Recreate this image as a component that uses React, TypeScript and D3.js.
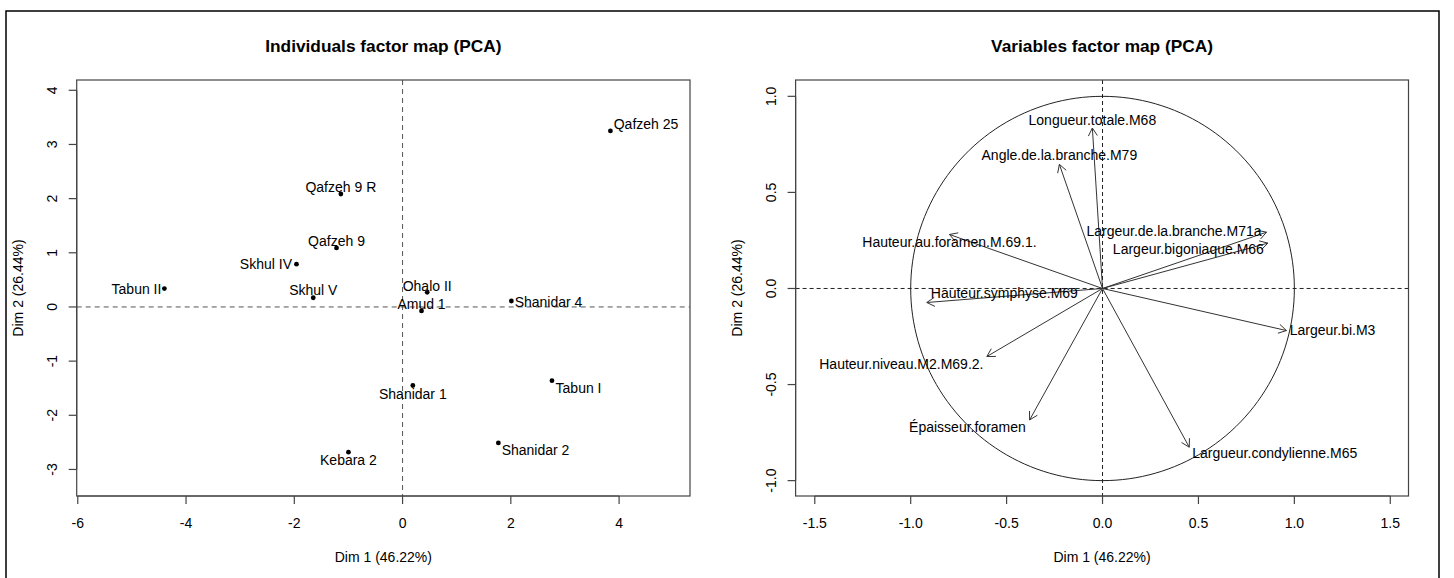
import React from "react";
import * as d3 from "d3";

// ---------- Data ----------
const indNames = ["Qafzeh 25", "Qafzeh 9 R", "Qafzeh 9", "Skhul IV", "Tabun II", "Skhul V", "Ohalo II", "Amud 1", "Shanidar 4", "Shanidar 1", "Tabun I", "Shanidar 2", "Kebara 2"];
const indDim1 = [3.84, -1.14, -1.22, -1.96, -4.40, -1.65, 0.455, 0.35, 2.01, 0.19, 2.76, 1.77, -1.00];
const indDim2 = [3.25, 2.085, 1.09, 0.79, 0.34, 0.17, 0.27, -0.074, 0.11, -1.45, -1.36, -2.51, -2.68];

const varNames = ["Longueur.totale.M68", "Angle.de.la.branche.M79", "Hauteur.au.foramen.M.69.1.", "Hauteur.symphyse.M69", "Hauteur.niveau.M2.M69.2.", "Largeur.de.la.branche.M71a", "Largeur.bigoniaque.M66", "Largeur.bi.M3", "Épaisseur.foramen", "Largueur.condylienne.M65"];
const varDim1 = [-0.053, -0.225, -0.798, -0.916, -0.603, 0.855, 0.862, 0.959, -0.38, 0.452];
const varDim2 = [0.835, 0.646, 0.281, -0.073, -0.354, 0.293, 0.236, -0.219, -0.684, -0.826];

const indXTicks = [-6, -4, -2, 0, 2, 4];
const indYTicks = [-3, -2, -1, 0, 1, 2, 3, 4];
const varXTicks = [-1.5, -1.0, -0.5, 0.0, 0.5, 1.0, 1.5];
const varYTicks = [-1.0, -0.5, 0.0, 0.5, 1.0];

const xLabel = "Dim 1 (46.22%)";
const yLabel = "Dim 2 (26.44%)";

// label placement (anchor, pixel offsets) – layout only
const indLabelPlace: [string, number, number][] = [
  ["start", 3.3, -7.4], ["middle", 0, -7.3], ["middle", 0, -7], ["end", -4.5, 0], ["end", -3, 0],
  ["middle", 0, -8], ["middle", 0, -6.6], ["middle", 0, -7], ["start", 3.3, 0.7], ["middle", 0, 8],
  ["start", 3.6, 7.6], ["start", 3.3, 7.4], ["middle", 0, 8],
];
const varLabelPlace: [string, number, number][] = [
  ["middle", 0, -8.4], ["middle", 0, -9], ["middle", 0, 7.7], ["start", 4, -9.3], ["end", -3.4, 7.3],
  ["end", -5, -1], ["end", -4, 6.3], ["start", 3.3, -1], ["end", -3.8, 7.4], ["start", 3, 5.6],
];

const FONT = "'Liberation Sans', Arimo, Arial, Helvetica, sans-serif";
const W = 1454, H = 578;
const BOX_TOP = 80, BOX_BOTTOM = 496;

function fmt1(v: number) {
  return v.toFixed(1);
}

interface PanelProps {
  left: number; right: number;
  xDomain: [number, number]; yDomain: [number, number];
  xTicks: number[]; yTicks: number[];
  fmt: (v: number) => string;
  title: string;
  children: (x: d3.ScaleLinear<number, number>, y: d3.ScaleLinear<number, number>) => React.ReactNode;
  dash: string; dashColor: string;
}

function Panel({ left, right, xDomain, yDomain, xTicks, yTicks, fmt, title, children, dash, dashColor }: PanelProps) {
  const x = d3.scaleLinear().domain(xDomain).range([left, right]);
  const y = d3.scaleLinear().domain(yDomain).range([BOX_BOTTOM, BOX_TOP]);
  const cx = (left + right) / 2;
  const cy = (BOX_TOP + BOX_BOTTOM) / 2;
  const axisColor = "#444";
  return (
    <g>
      <text x={cx} y={46} textAnchor="middle" dominantBaseline="central" fontFamily={FONT} fontWeight="bold" fontSize={17.3} fill="#000">{title}</text>
      {/* dashed zero lines */}
      <line x1={left} x2={right} y1={y(0)} y2={y(0)} stroke={dashColor} strokeDasharray={dash} strokeWidth={1} />
      <line x1={x(0)} x2={x(0)} y1={BOX_TOP} y2={BOX_BOTTOM} stroke={dashColor} strokeDasharray={dash} strokeWidth={1} />
      {children(x, y)}
      {/* box */}
      <rect x={left} y={BOX_TOP} width={right - left} height={BOX_BOTTOM - BOX_TOP} fill="none" stroke={axisColor} strokeWidth={1.2} />
      {/* x axis */}
      <line x1={x(xTicks[0])} x2={x(xTicks[xTicks.length - 1])} y1={BOX_BOTTOM} y2={BOX_BOTTOM} stroke={axisColor} strokeWidth={1.2} />
      {xTicks.map((t) => (
        <g key={"xt" + t}>
          <line x1={x(t)} x2={x(t)} y1={BOX_BOTTOM} y2={BOX_BOTTOM + 8} stroke={axisColor} strokeWidth={1.2} />
          <text x={x(t)} y={523} textAnchor="middle" dominantBaseline="central" fontFamily={FONT} fontSize={14} fill="#000">{fmt(t)}</text>
        </g>
      ))}
      {/* y axis */}
      <line x1={left} x2={left} y1={y(yTicks[0])} y2={y(yTicks[yTicks.length - 1])} stroke={axisColor} strokeWidth={1.2} />
      {yTicks.map((t) => (
        <g key={"yt" + t}>
          <line x1={left - 8} x2={left} y1={y(t)} y2={y(t)} stroke={axisColor} strokeWidth={1.2} />
          <text transform={`translate(${left - 25},${y(t)}) rotate(-90)`} textAnchor="middle" dominantBaseline="central" fontFamily={FONT} fontSize={14} fill="#000">{fmt(t)}</text>
        </g>
      ))}
      <text x={cx} y={557} textAnchor="middle" dominantBaseline="central" fontFamily={FONT} fontSize={14} fill="#000">{xLabel}</text>
      <text transform={`translate(${left - 59},${cy}) rotate(-90)`} textAnchor="middle" dominantBaseline="central" fontFamily={FONT} fontSize={14} fill="#000">{yLabel}</text>
    </g>
  );
}

function arrowHead(x0: number, y0: number, x1: number, y1: number, len: number) {
  const ang = Math.atan2(y1 - y0, x1 - x0);
  const a = Math.PI / 6;
  const p1 = [x1 - len * Math.cos(ang - a), y1 - len * Math.sin(ang - a)];
  const p2 = [x1 - len * Math.cos(ang + a), y1 - len * Math.sin(ang + a)];
  return `M${p1[0]},${p1[1]}L${x1},${y1}L${p2[0]},${p2[1]}`;
}

export default function App() {
  const circle = d3.range(0, 361, 2).map((deg) => [Math.cos((deg * Math.PI) / 180), Math.sin((deg * Math.PI) / 180)] as [number, number]);
  return (
    <svg width={W} height={H} style={{ position: "absolute", left: 0, top: 0, background: "#fff" }}>
      <rect x={0} y={0} width={W} height={H} fill="#fff" />
      <rect x={6} y={11} width={1433} height={620} fill="none" stroke="#000" strokeWidth={1.5} />

      <Panel left={76.7} right={690} xDomain={[-6.02, 5.31]} yDomain={[-3.49, 4.19]} xTicks={indXTicks} yTicks={indYTicks}
        fmt={(v) => String(v)} title="Individuals factor map (PCA)" dash="5,4" dashColor="#555">
        {(x, y) => (
          <g>
            {indNames.map((n, i) => (
              <circle key={"p" + i} cx={x(indDim1[i])} cy={y(indDim2[i])} r={2.4} fill="#000" />
            ))}
            {indNames.map((n, i) => {
              const [anchor, dx, dy] = indLabelPlace[i];
              return (
                <text key={"l" + i} x={x(indDim1[i]) + dx} y={y(indDim2[i]) + dy} textAnchor={anchor as any} dominantBaseline="central" fontFamily={FONT} fontSize={14} fill="#000">{n}</text>
              );
            })}
          </g>
        )}
      </Panel>

      <Panel left={795.6} right={1408.5} xDomain={[-1.6, 1.595]} yDomain={[-1.08, 1.085]} xTicks={varXTicks} yTicks={varYTicks}
        fmt={fmt1} title="Variables factor map (PCA)" dash="4,3" dashColor="#222">
        {(x, y) => {
          const line = d3.line<[number, number]>().x((d) => x(d[0])).y((d) => y(d[1]));
          return (
            <g>
              <path d={line(circle) || ""} fill="none" stroke="#222" strokeWidth={1} />
              {varNames.map((n, i) => {
                const x0 = x(0), y0 = y(0), x1 = x(varDim1[i]), y1 = y(varDim2[i]);
                return (
                  <g key={"a" + i}>
                    <line x1={x0} y1={y0} x2={x1} y2={y1} stroke="#333" strokeWidth={1} />
                    <path d={arrowHead(x0, y0, x1, y1, 9)} fill="none" stroke="#333" strokeWidth={1} />
                  </g>
                );
              })}
              {varNames.map((n, i) => {
                const [anchor, dx, dy] = varLabelPlace[i];
                return (
                  <text key={"vl" + i} x={x(varDim1[i]) + dx} y={y(varDim2[i]) + dy} textAnchor={anchor as any} dominantBaseline="central" fontFamily={FONT} fontSize={14} fill="#000">{n}</text>
                );
              })}
            </g>
          );
        }}
      </Panel>
    </svg>
  );
}
